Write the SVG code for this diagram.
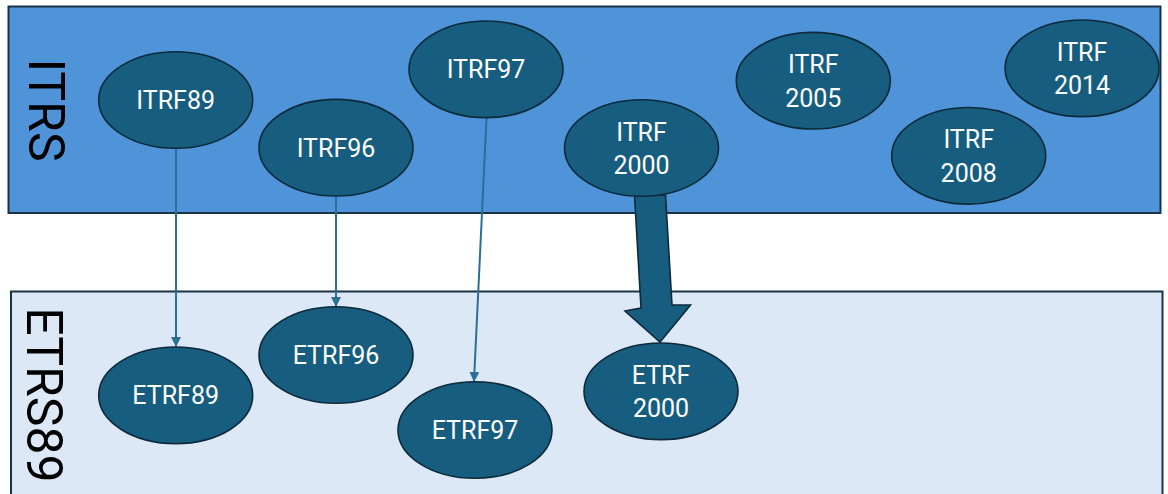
<svg xmlns="http://www.w3.org/2000/svg" width="1168" height="494" viewBox="0 0 1168 494">
  <style>
    .band-top { fill: #4f94d9; stroke: #1a3246; stroke-width: 2; }
    .band-bottom { fill: #dce8f6; stroke: #1a3246; stroke-width: 2; }
    .band-label { font-family: Roboto, "Liberation Sans", sans-serif; font-size: 50px; fill: #000000; text-anchor: middle; }
    .node ellipse { fill: #165d80; stroke: #0d2a3a; stroke-width: 1.6; }
    .node text { font-family: Roboto, "Liberation Sans", sans-serif; font-size: 25px; fill: #ffffff; text-anchor: middle; }
    .link { stroke: #2a6f96; stroke-width: 2; fill: none; marker-end: url(#head); }
    .big-arrow { fill: #165d80; stroke: #0d2a3a; stroke-width: 1.6; stroke-linejoin: miter; }
  </style>
  <defs>
    <marker id="head" viewBox="0 0 10 10" refX="9" refY="5" markerWidth="5" markerHeight="5" orient="auto" markerUnits="strokeWidth">
      <path d="M0,0 L10,5 L0,10 z" fill="#2a6f96"/>
    </marker>
  </defs>

  <!-- system bands -->
  <g id="band-itrs">
    <rect class="band-top" x="8.5" y="6.5" width="1152" height="206.5"/>
    <text class="band-label" transform="translate(29,110) rotate(90)">ITRS</text>
  </g>
  <g id="band-etrs89">
    <rect class="band-bottom" x="11" y="291.5" width="1151.5" height="215"/>
    <text class="band-label" transform="translate(27,395) rotate(90)">ETRS89</text>
  </g>

  <!-- connectors -->
  <g id="connectors">
    <line class="link" x1="176" y1="148" x2="176" y2="346"/>
    <line class="link" x1="336" y1="196" x2="336" y2="306"/>
    <line class="link" x1="486.5" y1="118" x2="474" y2="381"/>
    <polygon class="big-arrow" points="634.5,195 665.5,195 672,305 690.5,305 660,342 625,311 641,308"/>
  </g>

  <!-- ITRS realisations -->
  <g id="itrf89" class="node">
    <ellipse cx="175.7" cy="100" rx="77" ry="48.3"/>
    <text x="175.7" y="109">ITRF89</text>
  </g>
  <g id="itrf96" class="node">
    <ellipse cx="336" cy="147.7" rx="77" ry="48.3"/>
    <text x="336" y="156.7">ITRF96</text>
  </g>
  <g id="itrf97" class="node">
    <ellipse cx="486" cy="69.3" rx="77" ry="48.3"/>
    <text x="486" y="78.3">ITRF97</text>
  </g>
  <g id="itrf2000" class="node">
    <ellipse cx="641.5" cy="148" rx="77" ry="48.3"/>
    <text x="641.5" y="140.6">ITRF</text>
    <text x="641.5" y="174">2000</text>
  </g>
  <g id="itrf2005" class="node">
    <ellipse cx="813.3" cy="80.7" rx="77" ry="48.3"/>
    <text x="813.3" y="73.3">ITRF</text>
    <text x="813.3" y="106.7">2005</text>
  </g>
  <g id="itrf2008" class="node">
    <ellipse cx="968.7" cy="155.8" rx="77" ry="48.3"/>
    <text x="968.7" y="148.4">ITRF</text>
    <text x="968.7" y="181.8">2008</text>
  </g>
  <g id="itrf2014" class="node">
    <ellipse cx="1082" cy="68.3" rx="77" ry="48.3"/>
    <text x="1082" y="60.9">ITRF</text>
    <text x="1082" y="94.3">2014</text>
  </g>

  <!-- ETRS89 realisations -->
  <g id="etrf89" class="node">
    <ellipse cx="175.7" cy="395.3" rx="77" ry="48.3"/>
    <text x="175.7" y="404.3">ETRF89</text>
  </g>
  <g id="etrf96" class="node">
    <ellipse cx="336" cy="355" rx="77" ry="48.3"/>
    <text x="336" y="364">ETRF96</text>
  </g>
  <g id="etrf97" class="node">
    <ellipse cx="475" cy="430" rx="77" ry="48.3"/>
    <text x="475" y="439">ETRF97</text>
  </g>
  <g id="etrf2000" class="node">
    <ellipse cx="661" cy="391.3" rx="77" ry="48.3"/>
    <text x="661" y="383.9">ETRF</text>
    <text x="661" y="417.3">2000</text>
  </g>
</svg>
